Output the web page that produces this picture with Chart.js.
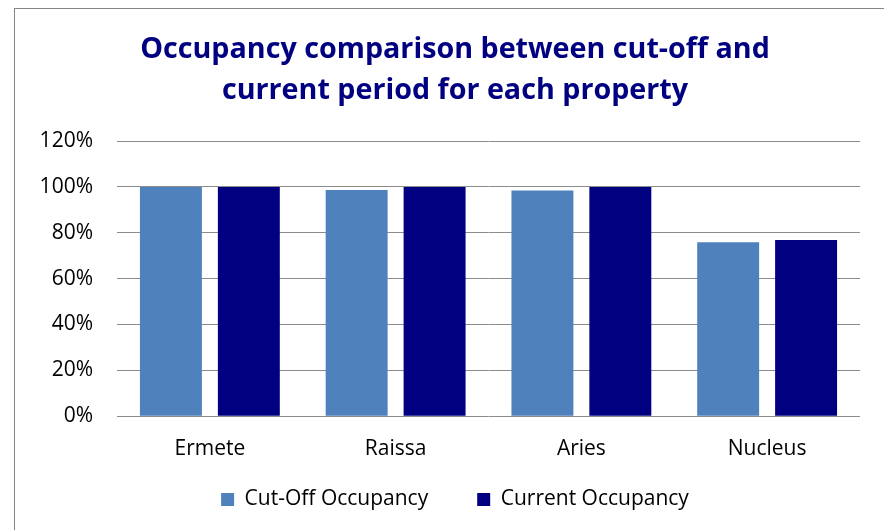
<!DOCTYPE html>
<html>
<head>
    <meta charset="UTF-8"/>
    <title>Occupancy comparison</title>
    <script src="https://cdn.jsdelivr.net/npm/chart.js@4"></script>
    <style>
        html, body { margin: 0; padding: 0; overflow: hidden; background: #fff; }
        canvas { display: block; }
    </style>
</head>
<body>
<canvas id="graficoOccupancy" width="910" height="530"></canvas>
<script type="text/javascript">
    // values, in percent
    var properties = ["Ermete", "Raissa", "Aries", "Nucleus"];
    var cutOffOccupancy = [100, 98.7, 98.4, 75.9];
    var currentOccupancy = [100, 100, 100, 76.8];
    var yTicks = [0, 20, 40, 60, 80, 100, 120];

    var labelFont = { family: "'Open Sans', sans-serif", size: 21 };

    // white background + the grey frame (only left and top are visible)
    var framePlugin = {
        id: 'frame',
        beforeDraw: function (chart) {
            var ctx = chart.ctx;
            ctx.save();
            ctx.fillStyle = '#ffffff';
            ctx.fillRect(0, 0, chart.width, chart.height);
            ctx.strokeStyle = '#868686';
            ctx.lineWidth = 1;
            ctx.strokeRect(14.5, 8.5, 1000, 1000);
            ctx.restore();
        }
    };

    var ctx = document.getElementById("graficoOccupancy");
    var myChart = new Chart(ctx, {
        type: 'bar',
        data: {
            labels: properties,
            datasets: [
                {
                    label: "Cut-Off Occupancy",
                    data: cutOffOccupancy,
                    backgroundColor: "#4F81BD",
                    barPercentage: 0.795,
                    categoryPercentage: 0.839
                },
                {
                    label: "Current Occupancy",
                    data: currentOccupancy,
                    backgroundColor: "#000080",
                    barPercentage: 0.795,
                    categoryPercentage: 0.839
                }
            ]
        },
        options: {
            responsive: false,
            animation: false,
            layout: { padding: { left: 20, right: 20, top: 0, bottom: 10 } },
            plugins: {
                title: {
                    display: true,
                    text: ["Occupancy comparison between cut-off and", "current period for each property"],
                    color: '#000080',
                    font: { family: "'Open Sans', sans-serif", size: 28.7, weight: 'bold', lineHeight: 1.43 },
                    padding: { top: 29, bottom: 30 }
                },
                legend: {
                    position: 'bottom',
                    labels: {
                        color: '#000',
                        font: labelFont,
                        boxWidth: 13,
                        boxHeight: 13,
                        padding: 49
                    }
                },
                tooltip: { enabled: false }
            },
            scales: {
                x: {
                    // keep the axis box short (the wide legend sits right under it)
                    // and let the labels draw past it instead of being clipped
                    afterFit: function (scale) {
                        scale.height = 23.8;
                        scale._computeLabelArea = function () { return undefined; };
                    },
                    grid: { display: false, drawTicks: false },
                    border: { display: false },
                    ticks: { color: '#000', font: labelFont, padding: 20 }
                },
                y: {
                    min: 0,
                    max: 120,
                    afterFit: function (scale) { scale.width = 97; },
                    afterBuildTicks: function (scale) {
                        scale.ticks = yTicks.map(function (v) { return { value: v }; });
                    },
                    grid: { color: '#8c8c8c', lineWidth: 1, drawTicks: false },
                    border: { display: false },
                    ticks: {
                        color: '#000',
                        font: labelFont,
                        padding: 24,
                        callback: function (v) { return v + '%'; }
                    }
                },
                // empty spacer on the right so title/legend centre like the original
                spacer: {
                    position: 'right',
                    afterFit: function (scale) { scale.width = 30; },
                    grid: { display: false },
                    border: { display: false },
                    ticks: { display: false }
                }
            }
        },
        plugins: [framePlugin]
    });
</script>
</body>
</html>
